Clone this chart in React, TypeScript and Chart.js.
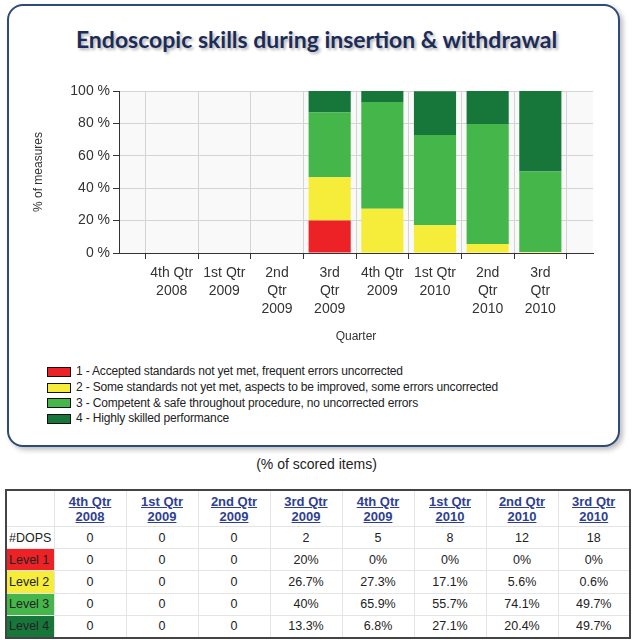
import React, { useEffect, useRef } from "react";
import { Chart, registerables } from "chart.js";

Chart.register(...registerables);

const quarters: string[][] = [
  ["4th Qtr", "2008"],
  ["1st Qtr", "2009"],
  ["2nd", "Qtr", "2009"],
  ["3rd", "Qtr", "2009"],
  ["4th Qtr", "2009"],
  ["1st Qtr", "2010"],
  ["2nd", "Qtr", "2010"],
  ["3rd", "Qtr", "2010"],
];
const tableHeaders: string[][] = [
  ["4th Qtr", "2008"],
  ["1st Qtr", "2009"],
  ["2nd Qtr", "2009"],
  ["3rd Qtr", "2009"],
  ["4th Qtr", "2009"],
  ["1st Qtr", "2010"],
  ["2nd Qtr", "2010"],
  ["3rd Qtr", "2010"],
];
const dops: number[] = [0, 0, 0, 2, 5, 8, 12, 18];
const level1: number[] = [0, 0, 0, 20, 0, 0, 0, 0];
const level2: number[] = [0, 0, 0, 26.7, 27.3, 17.1, 5.6, 0.6];
const level3: number[] = [0, 0, 0, 40, 65.9, 55.7, 74.1, 49.7];
const level4: number[] = [0, 0, 0, 13.3, 6.8, 27.1, 20.4, 49.7];
const level1Text: string[] = ["0", "0", "0", "20%", "0%", "0%", "0%", "0%"];
const level2Text: string[] = ["0", "0", "0", "26.7%", "27.3%", "17.1%", "5.6%", "0.6%"];
const level3Text: string[] = ["0", "0", "0", "40%", "65.9%", "55.7%", "74.1%", "49.7%"];
const level4Text: string[] = ["0", "0", "0", "13.3%", "6.8%", "27.1%", "20.4%", "49.7%"];
const legendLabels: string[] = [
  "1 - Accepted standards not yet met, frequent errors uncorrected",
  "2 - Some standards not yet met, aspects to be improved, some errors uncorrected",
  "3 - Competent & safe throughout procedure, no uncorrected errors",
  "4 - Highly skilled performance",
];
const yTicks: number[] = [0, 20, 40, 60, 80, 100];

const COLORS = ["#ec2227", "#f6ed3b", "#45b74a", "#17773b"];
const FONT = "'Liberation Sans', Arial, sans-serif";

const plotBg = {
  id: "plotBg",
  beforeDraw(chart: any) {
    const { ctx, chartArea } = chart;
    ctx.save();
    ctx.fillStyle = "#f9f9f9";
    ctx.fillRect(chartArea.left, chartArea.top, chartArea.right - chartArea.left, chartArea.bottom - chartArea.top);
    ctx.restore();
  },
};

function pad(arr: number[]): (number | null)[] {
  return [null, ...arr.map((v) => (v === 0 ? null : v)), null];
}

export default function App() {
  const ref = useRef<HTMLCanvasElement | null>(null);

  useEffect(() => {
    if (!ref.current) return;
    const series = [level1, level2, level3, level4];
    const chart = new Chart(ref.current, {
      type: "bar",
      data: {
        labels: [[""], ...quarters, [""]] as any,
        datasets: series.map((s, i) => ({
          label: legendLabels[i],
          data: pad(s),
          backgroundColor: COLORS[i],
          borderWidth: 0,
          categoryPercentage: 0.8,
          barPercentage: 1,
        })),
      },
      options: {
        animation: false,
        responsive: false,
        maintainAspectRatio: false,
        layout: { padding: { top: 31, right: 24, left: 0, bottom: 0 } },
        plugins: {
          legend: { display: false },
          tooltip: { enabled: false },
          title: { display: false },
        },
        scales: {
          x: {
            stacked: true,
            offset: false,
            grid: { color: "#d4d4d4", tickColor: "#333", tickLength: 6, lineWidth: 1 },
            border: { color: "#333", width: 1 },
            ticks: {
              color: "#333",
              font: { family: FONT, size: 14, lineHeight: 1.28 },
              padding: 5,
              maxRotation: 0,
              autoSkip: false,
            },
            title: {
              display: true,
              text: "Quarter",
              color: "#333",
              font: { family: FONT, size: 12 },
              padding: { top: 4, bottom: 6 },
            },
            afterFit(scale: any) {
              scale.height = 97;
            },
          },
          y: {
            stacked: true,
            min: 0,
            max: 100,
            afterBuildTicks(scale: any) {
              scale.ticks = yTicks.map((v) => ({ value: v }));
            },
            grid: { color: "#d4d4d4", tickColor: "#333", tickLength: 6 },
            border: { color: "#333", width: 1 },
            ticks: {
              color: "#333",
              font: { family: FONT, size: 14 },
              padding: 3,
              callback: (v: any) => v + " %",
            },
            title: {
              display: true,
              text: "% of measures",
              color: "#333",
              font: { family: FONT, size: 12 },
              padding: { top: 22, bottom: 4 },
            },
            afterFit(scale: any) {
              scale.width = 110;
            },
          },
        },
      },
      plugins: [plotBg],
    });
    return () => chart.destroy();
  }, []);

  const cell: React.CSSProperties = {
    borderRight: "1px solid #e4e4e4",
    borderBottom: "1px solid #e4e4e4",
    textAlign: "center",
    padding: 0,
    height: 21.2,
  };
  const rows: { label: string; vals: string[]; bg?: string }[] = [
    { label: "#DOPS", vals: dops.map(String) },
    { label: "Level 1", vals: level1Text, bg: COLORS[0] },
    { label: "Level 2", vals: level2Text, bg: COLORS[1] },
    { label: "Level 3", vals: level3Text, bg: COLORS[2] },
    { label: "Level 4", vals: level4Text, bg: COLORS[3] },
  ];

  return (
    <div style={{ position: "absolute", left: 0, top: 0, width: 633, height: 640, background: "#fff", fontFamily: FONT, overflow: "hidden" }}>
      <div
        style={{
          position: "absolute",
          left: 7,
          top: 4,
          width: 609,
          height: 439,
          border: "2px solid #2d4a78",
          borderRadius: 16,
          boxShadow: "3px 3px 5px rgba(0,0,0,0.25)",
          background: "#fff",
        }}
      />
      <div
        style={{
          position: "absolute",
          left: 0,
          top: 25,
          width: 633,
          textAlign: "center",
          fontFamily: "Lato, 'Open Sans', sans-serif",
          fontWeight: 700,
          fontSize: 23,
          color: "#1c2c58",
          textShadow: "2px 2px 3px rgba(0,0,0,0.3)",
          lineHeight: "28px",
        }}
      >
        Endoscopic skills during insertion &amp; withdrawal
      </div>
      <canvas ref={ref} width={608} height={290} style={{ position: "absolute", left: 9, top: 60, width: 608, height: 290 }} />
      <div style={{ position: "absolute", left: 47, top: 364, fontSize: 12, color: "#222", letterSpacing: -0.17 }}>
        {legendLabels.map((l, i) => (
          <div key={i} style={{ display: "flex", alignItems: "center", height: 15.7 }}>
            <span style={{ display: "inline-block", width: 22, height: 8, background: COLORS[i], border: "1px solid #111", marginRight: 5 }} />
            <span style={{ lineHeight: "15px", whiteSpace: "nowrap" }}>{l}</span>
          </div>
        ))}
      </div>
      <div style={{ position: "absolute", left: 0, top: 456, width: 633, textAlign: "center", fontSize: 14, color: "#222" }}>
        (% of scored items)
      </div>
      <table
        style={{
          position: "absolute",
          left: 5,
          top: 489,
          width: 626,
          borderCollapse: "collapse",
          border: "2px solid #444",
          fontSize: 12.5,
          color: "#222",
          tableLayout: "fixed",
        }}
      >
        <colgroup>
          <col style={{ width: 48 }} />
          {tableHeaders.map((_, i) => (
            <col key={i} />
          ))}
        </colgroup>
        <thead>
          <tr>
            <th style={{ ...cell, height: 35 }} />
            {tableHeaders.map((h, i) => (
              <th key={i} style={{ ...cell, height: 35, fontSize: 13, fontWeight: 700, color: "#2e3f92", textDecoration: "underline", lineHeight: "15px" }}>
                {h[0]}
                <br />
                {h[1]}
              </th>
            ))}
          </tr>
        </thead>
        <tbody>
          {rows.map((r, ri) => (
            <tr key={ri}>
              <td style={{ ...cell, textAlign: "left", paddingLeft: 2, background: r.bg || "#fff", color: "#222" }}>{r.label}</td>
              {r.vals.map((v, i) => (
                <td key={i} style={cell}>
                  {v}
                </td>
              ))}
            </tr>
          ))}
        </tbody>
      </table>
    </div>
  );
}
